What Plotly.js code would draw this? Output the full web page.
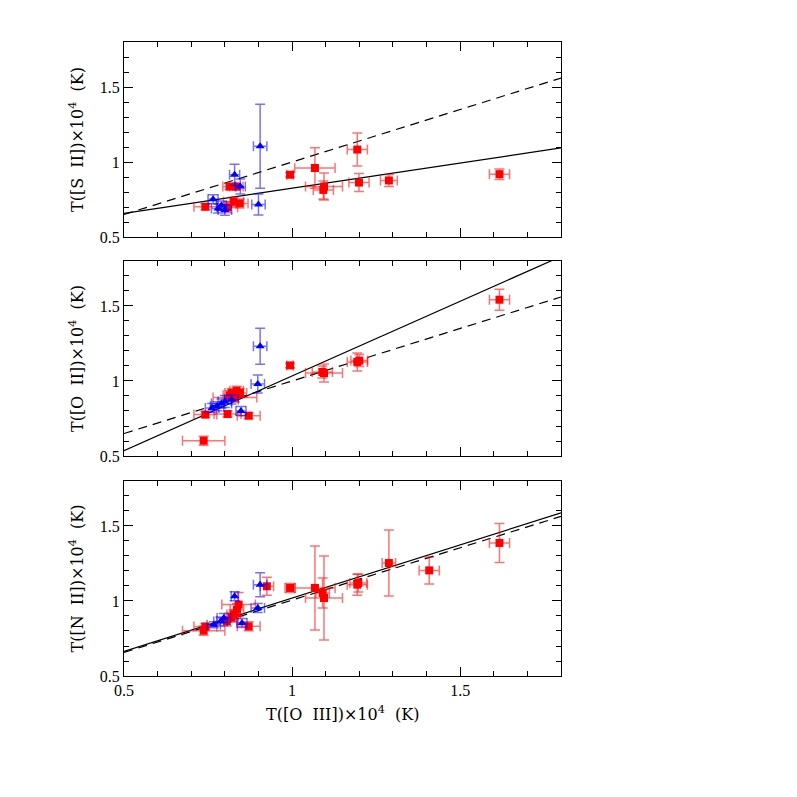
<!DOCTYPE html>
<html>
<head>
<meta charset="utf-8">
<script src="https://cdn.plot.ly/plotly-3.0.1.min.js"></script>
<style>html,body{margin:0;padding:0;background:#fff;}#chart{width:797px;height:797px;}</style>
</head>
<body>
<div id="chart"></div>
<script>
// ---------- Data ----------
// Panel 1: T([S II]) vs T([O III])
const p1RedX  = [0.742,0.808,0.814,0.834,0.826,0.844,0.994,1.068,1.095,1.093,1.194,1.199,1.288,1.617];
const p1RedY  = [0.702,0.697,0.836,0.836,0.735,0.724,0.915,0.960,0.836,0.814,1.083,0.863,0.877,0.919];
const p1RedXe = [0.034,0.030,0.020,0.020,0.030,0.025,0.010,0.060,0.055,0.030,0.030,0.030,0.025,0.030];
const p1RedYe = [0.020,0.035,0.020,0.020,0.030,0.030,0.015,0.135,0.090,0.060,0.110,0.060,0.040,0.035];
const p1BlueX  = [0.905,0.900,0.829,0.846,0.765,0.780,0.800,0.790];
const p1BlueY  = [1.105,0.717,0.915,0.836,0.751,0.690,0.680,0.710];
const p1BlueXe = [0.020,0.020,0.015,0.015,0.015,0.020,0.020,0.015];
const p1BlueYe = [0.280,0.070,0.070,0.050,0.030,0.030,0.035,0.030];

// Panel 2: T([O II]) vs T([O III])
const p2RedX  = [1.617,1.194,1.200,1.095,1.090,0.994,0.737,0.742,0.808,0.871,0.820,0.835,0.845,0.830,0.815];
const p2RedY  = [1.542,1.127,1.136,1.053,1.060,1.104,0.602,0.776,0.780,0.769,0.920,0.935,0.920,0.890,0.905];
const p2RedXe = [0.030,0.030,0.025,0.055,0.030,0.010,0.063,0.034,0.040,0.034,0.020,0.020,0.020,0.065,0.020];
const p2RedYe = [0.070,0.060,0.040,0.060,0.040,0.015,0.030,0.020,0.020,0.020,0.030,0.030,0.030,0.030,0.030];
const p2BlueX  = [0.905,0.898,0.762,0.777,0.800,0.820,0.848,0.790];
const p2BlueY  = [1.231,0.980,0.820,0.831,0.864,0.876,0.800,0.850];
const p2BlueXe = [0.020,0.020,0.020,0.020,0.020,0.020,0.015,0.030];
const p2BlueYe = [0.120,0.060,0.030,0.030,0.040,0.030,0.030,0.030];

// Panel 3: T([N II]) vs T([O III])
const p3RedX  = [1.617,1.408,1.288,1.194,1.197,1.095,1.091,1.068,0.994,0.925,0.871,0.737,0.742,0.841,0.836,0.826,0.806,0.820];
const p3RedY  = [1.387,1.204,1.253,1.109,1.120,1.020,1.053,1.087,1.087,1.098,0.831,0.802,0.830,0.976,0.942,0.910,0.864,0.890];
const p3RedXe = [0.030,0.030,0.020,0.030,0.025,0.055,0.020,0.060,0.015,0.020,0.034,0.063,0.034,0.050,0.020,0.020,0.030,0.020];
const p3RedYe = [0.130,0.090,0.220,0.070,0.060,0.280,0.100,0.280,0.030,0.060,0.030,0.030,0.020,0.080,0.040,0.030,0.030,0.030];
const p3BlueX  = [0.905,0.898,0.829,0.851,0.767,0.787,0.797];
const p3BlueY  = [1.109,0.953,1.031,0.853,0.842,0.864,0.887];
const p3BlueXe = [0.020,0.020,0.010,0.015,0.020,0.020,0.020];
const p3BlueYe = [0.080,0.030,0.030,0.030,0.020,0.030,0.030];

// Relations (end points at x = 0.5 and 1.8)
const fitX = [0.5, 1.8];
const p1Solid = [0.657, 1.094];
const p2Solid = [0.536, 1.830];
const p3Solid = [0.664, 1.587];
const p12Dashed = [0.650, 1.560];
const p3Dashed = [0.657, 1.564];

const xTicks = [0.5, 1, 1.5];
const yTicks = [0.5, 1, 1.5];
const yTitles = ['T([S&nbsp;&nbsp;II])×10<sup>4</sup>&nbsp;&nbsp;(K)',
                 'T([O&nbsp;&nbsp;II])×10<sup>4</sup>&nbsp;&nbsp;(K)',
                 'T([N&nbsp;&nbsp;II])×10<sup>4</sup>&nbsp;&nbsp;(K)'];
const xTitle = 'T([O&nbsp;&nbsp;III])×10<sup>4</sup>&nbsp;&nbsp;(K)';

// ---------- Build traces ----------
const RED = '#ff0000', BLUE = '#0000ff';
const RED_ERR = 'rgba(255,0,0,0.55)', BLUE_ERR = 'rgba(0,0,255,0.55)';

function pts(x, y, xe, ye, color, errColor, symbol, ax) {
  return {
    type: 'scatter', mode: 'markers', x: x, y: y,
    xaxis: ax.x, yaxis: ax.y, showlegend: false,
    marker: {color: color, symbol: symbol, size: 8, line: {width: 0}},
    error_x: {type: 'data', array: xe, visible: true, color: errColor, thickness: 1.5, width: 5},
    error_y: {type: 'data', array: ye, visible: true, color: errColor, thickness: 1.5, width: 5}
  };
}
function line(y, dash, ax) {
  return {type: 'scatter', mode: 'lines', x: fitX, y: y, xaxis: ax.x, yaxis: ax.y,
          showlegend: false, line: {color: '#000', width: 1.2, dash: dash}};
}

const axes = [{x: 'x', y: 'y'}, {x: 'x2', y: 'y2'}, {x: 'x3', y: 'y3'}];
const DASH = '9px,6px';
const traces = [
  line(p1Solid, 'solid', axes[0]), line(p12Dashed, DASH, axes[0]),
  pts(p1RedX, p1RedY, p1RedXe, p1RedYe, RED, RED_ERR, 'square', axes[0]),
  pts(p1BlueX, p1BlueY, p1BlueXe, p1BlueYe, BLUE, BLUE_ERR, 'triangle-up', axes[0]),
  line(p2Solid, 'solid', axes[1]), line(p12Dashed, DASH, axes[1]),
  pts(p2RedX, p2RedY, p2RedXe, p2RedYe, RED, RED_ERR, 'square', axes[1]),
  pts(p2BlueX, p2BlueY, p2BlueXe, p2BlueYe, BLUE, BLUE_ERR, 'triangle-up', axes[1]),
  line(p3Solid, 'solid', axes[2]), line(p3Dashed, DASH, axes[2]),
  pts(p3RedX, p3RedY, p3RedXe, p3RedYe, RED, RED_ERR, 'square', axes[2]),
  pts(p3BlueX, p3BlueY, p3BlueXe, p3BlueYe, BLUE, BLUE_ERR, 'triangle-up', axes[2])
];

// ---------- Layout ----------
const TICKFONT = {family: '"Liberation Serif", "DejaVu Serif", serif', size: 16, color: '#000'};
const TITLEFONT = {family: '"DejaVu Serif", "Liberation Serif", serif', size: 16, color: '#000'};
function xAxis(domainAnchor, showLabels) {
  return {
    range: [0.5, 1.8], anchor: domainAnchor, domain: [0, 1],
    tickvals: xTicks, ticks: 'inside', ticklen: 9, tickcolor: '#000', tickwidth: 1,
    minor: {dtick: 0.1, ticks: 'inside', ticklen: 5, tickcolor: '#000', tickwidth: 1, showgrid: false},
    showticklabels: showLabels, showline: true, linecolor: '#000', linewidth: 1,
    mirror: 'allticks', showgrid: false, zeroline: false, tickfont: TICKFONT
  };
}
function yAxis(anchor, domain, title) {
  return {
    range: [0.5, 1.8], anchor: anchor, domain: domain,
    tickvals: yTicks, ticks: 'inside', ticklen: 9, tickcolor: '#000', tickwidth: 1,
    minor: {dtick: 0.1, ticks: 'inside', ticklen: 5, tickcolor: '#000', tickwidth: 1, showgrid: false},
    showline: true, linecolor: '#000', linewidth: 1, mirror: 'allticks',
    showgrid: false, zeroline: false, tickfont: TICKFONT,
    title: {text: title, font: TITLEFONT, standoff: 12}
  };
}

const layout = {
  width: 797, height: 797,
  margin: {l: 124, r: 236, t: 42, b: 121},
  paper_bgcolor: '#fff', plot_bgcolor: '#fff',
  showlegend: false,
  xaxis: xAxis('y', false),
  yaxis: yAxis('x', [0.6924, 1], yTitles[0]),
  xaxis2: xAxis('y2', false),
  yaxis2: yAxis('x2', [0.347, 0.6546], yTitles[1]),
  xaxis3: xAxis('y3', true),
  yaxis3: yAxis('x3', [0, 0.3076], yTitles[2]),
  annotations: [{
    text: xTitle, xref: 'paper', yref: 'paper', x: 0.5, y: -0.040,
    xanchor: 'center', yanchor: 'top', showarrow: false, font: TITLEFONT
  }]
};

Plotly.newPlot('chart', traces, layout, {displayModeBar: false, staticPlot: true});
</script>
</body>
</html>
